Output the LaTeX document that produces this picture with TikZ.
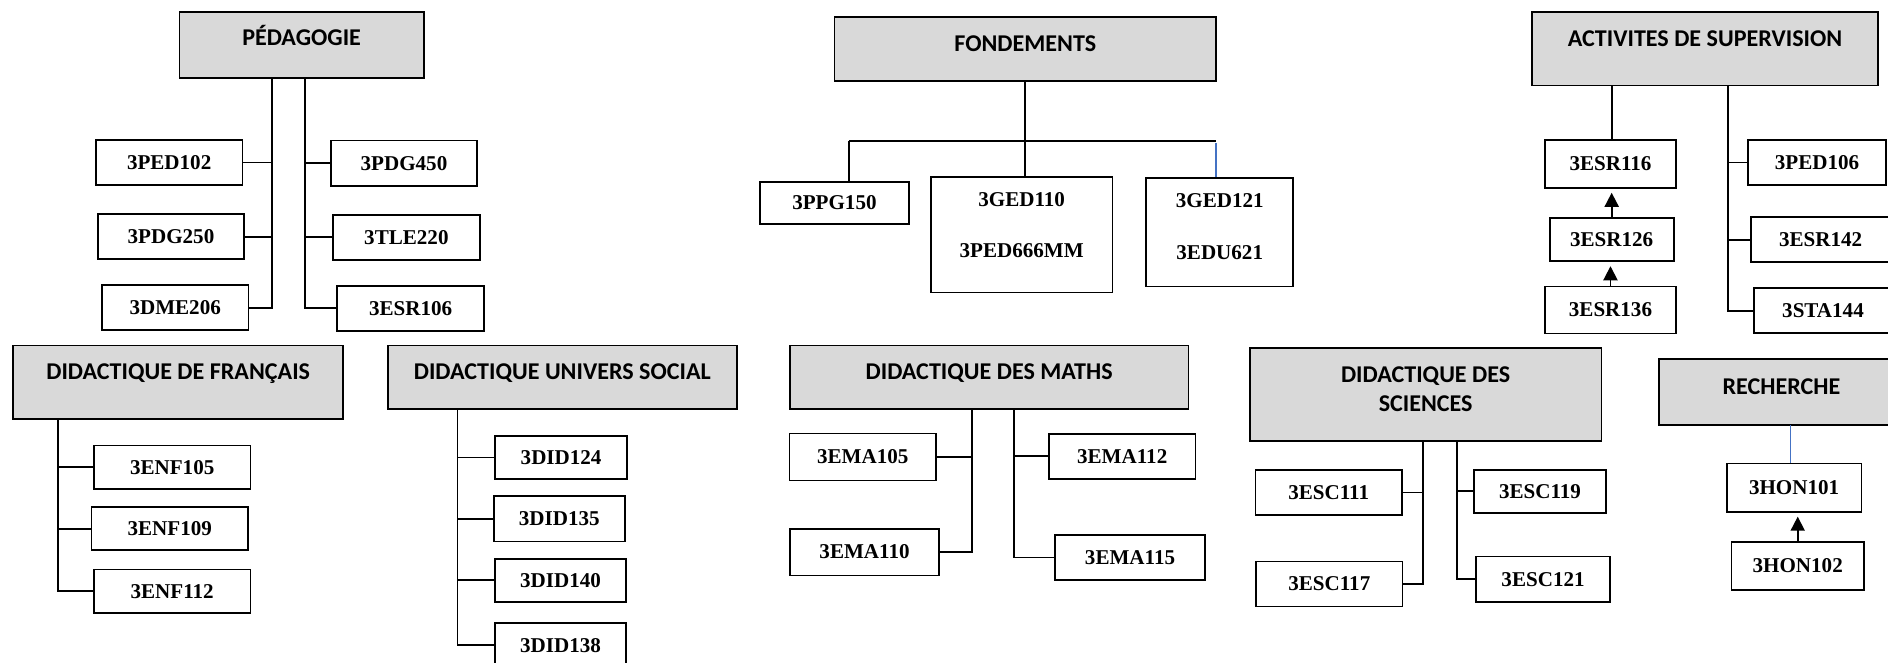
\documentclass[tikz,border=0pt]{standalone}
\usepackage{fontspec}
\setmainfont{Liberation Serif}
\newfontfamily\calibri{Carlito}
\usetikzlibrary{arrows.meta}
\definecolor{grisfond}{HTML}{D9D9D9}
\definecolor{bleuword}{HTML}{4472C4}

\begin{document}
\begin{tikzpicture}[x=0.6pt, y=-0.6pt,
  titre/.style={draw, line width=0.9pt, fill=grisfond, inner sep=0pt,
    font=\calibri\bfseries\fontsize{12}{14.4}\selectfont,
    text height=7.7pt, text depth=5.4pt},
  cours/.style={draw, line width=0.9pt, inner sep=0pt, minimum width=#1,
    minimum height=22.5pt, font=\bfseries\fontsize{10.5}{12.6}\selectfont},
  cours/.default=73pt,
  lien/.style={line width=0.9pt},
  lienbleu/.style={line width=0.9pt, draw=bleuword},
  fleche/.style={line width=0.9pt, -{Triangle[width=7pt,length=7pt]}, shorten >=2pt}]

  \useasboundingbox (0,0) rectangle (1568,550);

  % PÉDAGOGIE
  \node [titre, minimum width=121.8pt, minimum height=33pt, text depth=7.8pt] (ped) at (250.5,37.5) {PÉDAGOGIE};
  \node [cours] (ped102) at (140.5,135) {3PED102};
  \node [cours] (pdg250) at (142,196.5) {3PDG250};
  \node [cours] (dme206) at (145.5,255.5) {3DME206};
  \node [cours] (pdg450) at (335.5,135.5) {3PDG450};
  \node [cours] (tle220) at (337.5,197) {3TLE220};
  \node [cours] (esr106) at (341,256) {3ESR106};
  \coordinate (pedG) at (226,65);
  \coordinate (pedD) at (253,65);
  \draw [lien] (pedG) |- (dme206.east);
  \draw [lien] (ped102.east) -- (ped102.east -| pedG);
  \draw [lien] (pdg250.east) -- (pdg250.east -| pedG);
  \draw [lien] (pedD) |- (esr106.west);
  \draw [lien] (pdg450.west) -- (pdg450.west -| pedD);
  \draw [lien] (tle220.west) -- (tle220.west -| pedD);

  % FONDEMENTS
  \node [titre, minimum width=190.2pt, minimum height=31.8pt] (fond) at (851.5,40.5) {FONDEMENTS};
  \node [cours=74.4pt, minimum height=21pt] (ppg150) at (693,168.5) {3PPG150};
  \node [cours=90.6pt, minimum height=57.6pt,
    label={[yshift=4.8pt, align=center, font=\bfseries\fontsize{10.5}{25.2}\selectfont]center:3GED110\\3PED666MM}] (ged110) at (848.5,195) {};
  \node [cours=73.2pt, minimum height=54pt,
    label={[yshift=2.7pt, align=center, font=\bfseries\fontsize{10.5}{25.8}\selectfont]center:3GED121\\3EDU621}] (ged121) at (1013,193) {};
  \draw [lien] (fond.south) -- (fond.south |- ged110.north);
  \coordinate (fondG) at (705,117);
  \coordinate (fondD) at (1010,117);
  \coordinate (fondB) at (1010,119);
  \draw [lien] (fondG) -- (fondD);
  \draw [lien] (fondG) -- (fondG |- ppg150.north);
  \draw [lienbleu] (fondB) -- (fondB |- ged121.north);

  % ACTIVITES DE SUPERVISION
  \node [titre, minimum width=172.8pt, minimum height=36.6pt, text depth=10.2pt] (act) at (1416,40.5) {ACTIVITES DE SUPERVISION};
  \node [cours=65.4pt, minimum height=24pt] (esr116) at (1337.5,136) {3ESR116};
  \node [cours=61.8pt, minimum height=21.6pt] (esr126) at (1338.5,199) {3ESR126};
  \node [cours=65.4pt, minimum height=23.4pt] (esr136) at (1337.5,257.5) {3ESR136};
  \node [cours=68.4pt] (ped106) at (1509,135) {3PED106};
  \node [cours=69.6pt] (esr142) at (1512,199) {3ESR142};
  \node [cours=68.4pt] (sta144) at (1514,258) {3STA144};
  \coordinate (actG) at (1339,71);
  \coordinate (actD) at (1435,71);
  \draw [lien] (actG) -- (actG |- esr116.north);
  \draw [fleche] (esr126.north) -- (esr126.north |- esr116.south);
  \draw [fleche] (esr136.north) -- (esr136.north |- esr126.south);
  \draw [lien] (actD) |- (sta144.west);
  \draw [lien] (ped106.west) -- (ped106.west -| actD);
  \draw [lien] (esr142.west) -- (esr142.west -| actD);

  % DIDACTIQUE DE FRANÇAIS
  \node [titre, minimum width=164.4pt, minimum height=36.6pt, text depth=10.2pt] (fra) at (148,317.5) {DIDACTIQUE DE FRANÇAIS};
  \node [cours=78pt, minimum height=21.6pt] (enf105) at (143,388) {3ENF105};
  \node [cours=78pt, minimum height=21.6pt] (enf109) at (141,439) {3ENF109};
  \node [cours=78pt, minimum height=21.6pt] (enf112) at (143,491) {3ENF112};
  \coordinate (fraG) at (48,348);
  \draw [lien] (fraG) |- (enf112.west);
  \draw [lien] (enf105.west) -- (enf105.west -| fraG);
  \draw [lien] (enf109.west) -- (enf109.west -| fraG);

  % DIDACTIQUE UNIVERS SOCIAL
  \node [titre, minimum width=174pt, minimum height=31.8pt] (soc) at (467,313.5) {DIDACTIQUE UNIVERS SOCIAL};
  \node [cours=66pt, minimum height=21.6pt] (did124) at (466,380) {3DID124};
  \node [cours=65.4pt] (did135) at (464.5,431) {3DID135};
  \node [cours=65.4pt, minimum height=21.6pt] (did140) at (465.5,482) {3DID140};
  \node [cours=65.4pt] (did138) at (465.5,536) {3DID138};
  \coordinate (socG) at (380,340);
  \draw [lien] (socG) |- (did138.west);
  \draw [lien] (did124.west) -- (did124.west -| socG);
  \draw [lien] (did135.west) -- (did135.west -| socG);
  \draw [lien] (did140.west) -- (did140.west -| socG);

  % DIDACTIQUE DES MATHS
  \node [titre, minimum width=198.6pt, minimum height=31.8pt] (mat) at (821.5,313.5) {DIDACTIQUE DES MATHS};
  \node [cours, minimum height=23.4pt] (ema105) at (716.5,379.5) {3EMA105};
  \node [cours=74.4pt, minimum height=23.4pt] (ema110) at (718,458.5) {3EMA110};
  \node [cours] (ema112) at (932,379) {3EMA112};
  \node [cours=75pt] (ema115) at (938.5,463) {3EMA115};
  \coordinate (matG) at (807,340);
  \coordinate (matD) at (842,340);
  \draw [lien] (matG) |- (ema110.east);
  \draw [lien] (ema105.east) -- (ema105.east -| matG);
  \draw [lien] (matD) |- (ema115.west);
  \draw [lien] (ema112.west) -- (ema112.west -| matD);

  % DIDACTIQUE DES SCIENCES
  \node [titre, minimum width=175.2pt, minimum height=46.2pt,
    label={[yshift=2.7pt, align=center, font=\calibri\bfseries\fontsize{12}{14.4}\selectfont]center:DIDACTIQUE DES\\SCIENCES}] (sci) at (1184,327.5) {};
  \node [cours] (esc111) at (1103.5,409) {3ESC111};
  \node [cours] (esc117) at (1104,485) {3ESC117};
  \node [cours=66pt, minimum height=21.6pt] (esc119) at (1279,408) {3ESC119};
  \node [cours=66.6pt] (esc121) at (1281.5,481) {3ESC121};
  \coordinate (sciG) at (1182,366);
  \coordinate (sciD) at (1210,366);
  \draw [lien] (sciG) |- (esc117.east);
  \draw [lien] (esc111.east) -- (esc111.east -| sciG);
  \draw [lien] (sciD) |- (esc121.west);
  \draw [lien] (esc119.west) -- (esc119.west -| sciD);

  % RECHERCHE
  \node [titre, minimum width=121.8pt, minimum height=33pt] (rec) at (1479.5,325.5) {RECHERCHE};
  \node [cours=67.2pt, minimum height=24pt] (hon101) at (1490,405) {3HON101};
  \node [cours=66pt, minimum height=24pt] (hon102) at (1493,470) {3HON102};
  \coordinate (recB) at (1487,353);
  \draw [lienbleu] (recB) -- (recB |- hon101.north);
  \draw [fleche] (hon102.north) -- (hon102.north |- hon101.south);

\end{tikzpicture}
\end{document}
